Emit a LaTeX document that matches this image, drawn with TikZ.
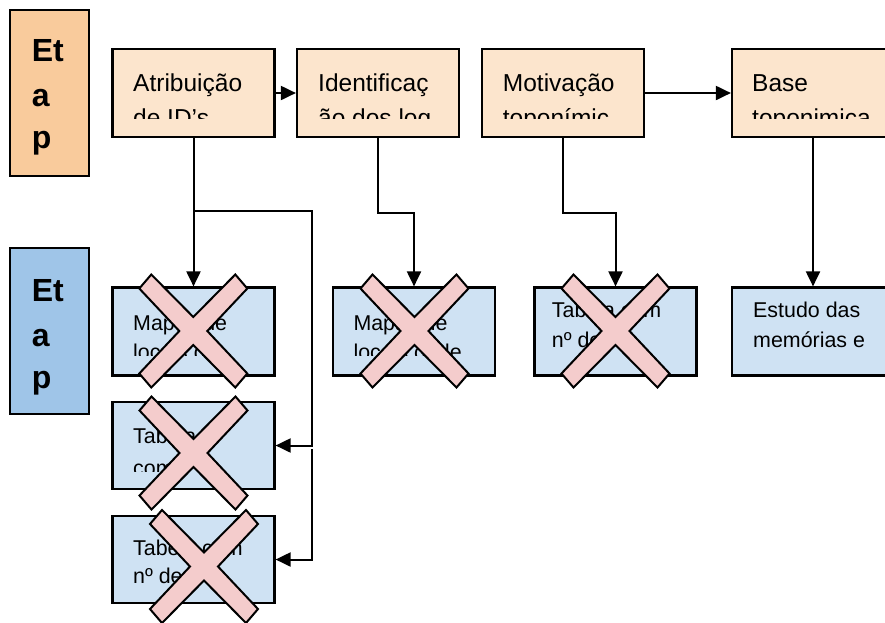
\documentclass[tikz,border=0pt]{standalone}
\usepackage{fontspec}
\setmainfont{Liberation Sans}
\usepackage{xcolor}
\usepackage{tikz}
\usetikzlibrary{arrows.meta}

\definecolor{etapaum}{HTML}{F9CB9C}
\definecolor{etapadois}{HTML}{9FC5E8}
\definecolor{upfill}{HTML}{FCE5CD}
\definecolor{lowfill}{HTML}{CFE2F3}
\definecolor{crossfill}{HTML}{F4CCCC}

\tikzset{
    stagebox/.style={draw, line width=2.2pt, minimum width=162pt, minimum height=88pt, inner sep=0pt},
    upbox/.style={stagebox, fill=upfill},
    lowbox/.style={stagebox, fill=lowfill},
    etapabox/.style={draw, line width=2.2pt, minimum width=79pt, minimum height=166pt, inner sep=0pt},
    etapatxt/.style={anchor=base west, inner sep=0pt, font=\fontsize{32}{38}\selectfont\bfseries},
    uptxt/.style={anchor=base west, inner sep=0pt, font=\fontsize{24.5}{30}\selectfont},
    lowtxt/.style={anchor=base west, inner sep=0pt, font=\fontsize{21.4}{26}\selectfont},
    link/.style={line width=2pt},
    conn/.style={link, -{Triangle[length=15pt,width=14pt]}},
    nope/.pic={\draw[line width=2pt, fill=crossfill] (0,-14) -- (42,-56.5) -- (54,-42.5) -- (14,0) -- (54,42.5) -- (42,56.5) -- (0,14) -- (-42,56.5) -- (-54,42.5) -- (-14,0) -- (-54,-42.5) -- (-42,-56.5) -- cycle;}
}

\begin{document}
\begin{tikzpicture}[x=1pt, y=-1pt]
        \useasboundingbox (0,0) rectangle (885,622);
        % etapas
        \node[etapabox, fill=etapaum] (etapa1) at (49.5,93) {};
        \node[etapabox, fill=etapadois] (etapa2) at (49.5,331) {};
        \node[etapatxt] (e1a) at (31.7,61.7) {Et};
        \node[etapatxt] (e1b) at (31.7,106.2) {a};
        \node[etapatxt] (e1c) at (31.7,148.3) {p};
        \node[etapatxt] (e2a) at (31.7,301) {Et};
        \node[etapatxt] (e2b) at (31.7,346) {a};
        \node[etapatxt] (e2c) at (31.7,388.3) {p};

        % top row
        \node[upbox] (ids) at (193.5,93) {};
        \node[upbox] (ident) at (378,93) {};
        \node[upbox] (motiv) at (563,93) {};
        \node[upbox] (base) at (813,93) {};
        \begin{scope}
            \clip (0,49) rectangle (885,118);
            \node[uptxt] (idsA) at (133,91.7) {Atribuição};
            \node[uptxt] (idsB) at (133,126.5) {de ID’s};
            \node[uptxt] (identA) at (318,91.7) {Identificaç};
            \node[uptxt] (identB) at (318,126.5) {ão dos log};
            \node[uptxt] (motivA) at (502.7,91.7) {Motivação};
            \node[uptxt] (motivB) at (502.7,126.5) {toponímic};
            \node[uptxt] (baseA) at (752,91.7) {Base};
            \node[uptxt] (baseB) at (752,126.5) {toponimica};
        \end{scope}

        % second row
        \node[lowbox] (mapa1) at (193.5,331.5) {};
        \node[lowbox] (mapa2) at (414,331.5) {};
        \node[lowbox] (tabnum) at (615.5,331.5) {};
        \node[lowbox] (estudo) at (813,331.5) {};
        \node[lowbox, minimum height=87pt] (tab1) at (193.5,445.5) {};
        \node[lowbox, minimum height=87pt] (tab2) at (193.5,559.5) {};
        \begin{scope}
            \clip (0,287) rectangle (885,355);
            \node[lowtxt] (mapa1A) at (133,330) {Mapas de};
            \node[lowtxt] (mapa1B) at (133,359.5) {locais de};
            \node[lowtxt] (mapa2A) at (353.3,330) {Mapas de};
            \node[lowtxt] (mapa2B) at (353.3,359.5) {locais onde};
            \node[lowtxt] (tabnumA) at (551.7,317.7) {Tabela com};
            \node[lowtxt] (tabnumB) at (551.7,347) {nº de};
            \node[lowtxt] (estudoA) at (753,317.7) {Estudo das};
            \node[lowtxt] (estudoB) at (753,347) {memórias e};
        \end{scope}
        \begin{scope}
            \clip (0,402) rectangle (885,471.7);
            \node[lowtxt] (tab1A) at (133,443) {Tabela};
            \node[lowtxt] (tab1B) at (133,475) {com a de};
        \end{scope}
        \node[lowtxt] (tab2A) at (133,555.7) {Tabela com};
        \node[lowtxt] (tab2B) at (133,583.3) {nº de};

        % connectors
        \coordinate (split) at (193.5,211);
        \coordinate (side) at (312,211);
        \coordinate (side2) at (312,449);
        \draw[conn] (ids) -- (ident);
        \draw[conn] (motiv) -- (base);
        \draw[conn] (ids.south) -- (mapa1.north);
        \draw[conn] (split) -- (side) |- (tab1.east);
        \draw[conn] (side2) |- (tab2.east);
        \draw[conn] (ident.south) -- ++(0,75) -| (mapa2.north);
        \draw[conn] (motiv.south) -- ++(0,75) -| (tabnum.north);
        \draw[conn] (base.south) -- (estudo.north);

        % crossed out
        \pic (xmapa1) at (193.3,331) {nope};
        \pic (xmapa2) at (414.5,331) {nope};
        \pic (xtabnum) at (615.5,331) {nope};
        \pic (xtab1) at (193.5,453) {nope};
        \pic (xtab2) at (204,566.5) {nope};
    \end{tikzpicture}
\end{document}
